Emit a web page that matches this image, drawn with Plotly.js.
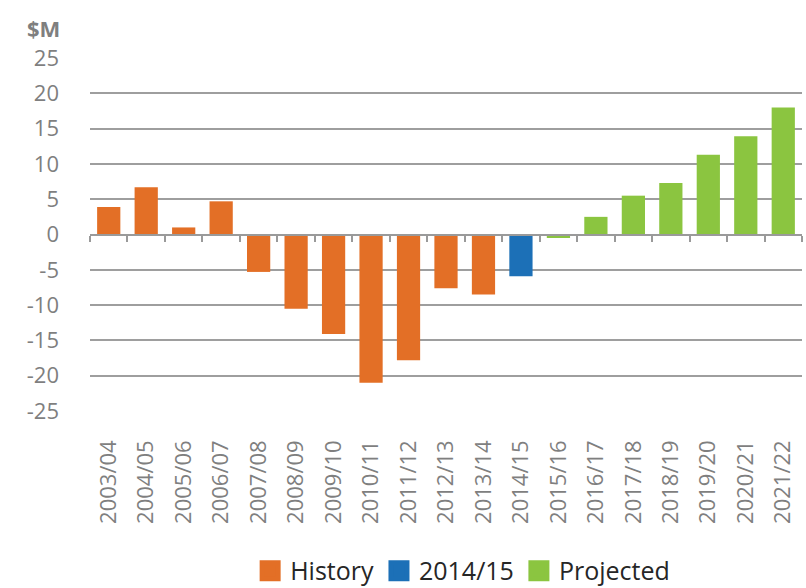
<!DOCTYPE html>
<html>
<head>
<meta charset="utf-8">
<script src="https://cdn.plot.ly/plotly-3.0.1.min.js"></script>
<style>html,body{margin:0;padding:0;background:#fff}#chart{width:806px;height:588px}</style>
</head>
<body>
<div id="chart"></div>
<script>
const categories = ["2003/04","2004/05","2005/06","2006/07","2007/08","2008/09","2009/10","2010/11","2011/12","2012/13","2013/14","2014/15","2015/16","2016/17","2017/18","2018/19","2019/20","2020/21","2021/22"];
const historyYears = ["2003/04","2004/05","2005/06","2006/07","2007/08","2008/09","2009/10","2010/11","2011/12","2012/13","2013/14"];
const historyValues = [3.9, 6.7, 1.0, 4.7, -5.3, -10.5, -14.1, -21.0, -17.8, -7.6, -8.5];
const currentYears = ["2014/15"];
const currentValues = [-5.9];
const projectedYears = ["2015/16","2016/17","2017/18","2018/19","2019/20","2020/21","2021/22"];
const projectedValues = [-0.5, 2.5, 5.5, 7.3, 11.3, 13.9, 18.0];
const seriesNames = ["History", "2014/15", "Projected"];
const seriesColors = ["#E36F26", "#1C70B7", "#8BC540"];
const yTicks = [-25,-20,-15,-10,-5,0,5,10,15,20,25];

const gray = "#7f7f7f";
const font = "Open Sans, sans-serif";

const traces = [
  {type:"bar", name:seriesNames[0], showlegend:false, x:historyYears, y:historyValues, marker:{color:seriesColors[0]}},
  {type:"bar", name:seriesNames[1], showlegend:false, x:currentYears, y:currentValues, marker:{color:seriesColors[1]}},
  {type:"bar", name:seriesNames[2], showlegend:false, x:projectedYears, y:projectedValues, marker:{color:seriesColors[2]}},
  {type:"scatter", mode:"markers", x:categories, y:categories.map(()=>0), marker:{opacity:0}, showlegend:false, hoverinfo:"skip", xaxis:"x2", yaxis:"y"}
];
// legend proxies (no data) so the legend keys can be larger squares
seriesNames.forEach((n, i) => {
  traces.push({type:"scatter", mode:"markers", name:n, x:[null], y:[null],
    marker:{symbol:"square", size:16, color:seriesColors[i], line:{color:seriesColors[i], width:5}}, showlegend:true});
});

const layout = {
  width:806, height:588,
  margin:{l:90, r:4, t:58, b:177},
  paper_bgcolor:"#fff", plot_bgcolor:"#fff",
  barmode:"relative", bargap:0.38,
  font:{family:font, color:gray, size:22},
  xaxis:{type:"category", categoryorder:"array", categoryarray:categories, range:[-0.5,18.5], automargin:false,
    showgrid:false, showline:false, zeroline:false, ticks:"", tickangle:-90,
    tickfont:{family:font, size:22, color:gray}, ticklabelstandoff:24, fixedrange:true},
  xaxis2:{type:"category", categoryorder:"array", categoryarray:categories, range:[-0.5,18.5],
    overlaying:"x", anchor:"free", position:0.5, side:"bottom",
    showgrid:false, zeroline:false, showline:true, linecolor:"#9a9a9a", linewidth:2,
    ticks:"outside", tickson:"boundaries", ticklen:6, tickwidth:2, tickcolor:"#9a9a9a",
    showticklabels:false, fixedrange:true},
  yaxis:{range:[-25,25], tickvals:yTicks, ticktext:yTicks.map(String), showgrid:true, gridcolor:"#9e9e9e", gridwidth:1.8,
    zeroline:false, showline:false, ticks:"", automargin:false, tickfont:{family:font, size:22, color:gray}, ticklabelstandoff:30, fixedrange:true},
  showlegend:true,
  legend:{orientation:"h", xref:"container", yref:"container", x:0.574, xanchor:"center", y:0.029, yanchor:"middle",
    font:{family:font, size:25, color:"#262626"}, traceorder:"normal", itemwidth:30, tracegroupgap:0},
  annotations:[{text:"<b>$M</b>", xref:"paper", yref:"paper", x:-0.0913, y:1.085, xanchor:"left", yanchor:"middle", showarrow:false, font:{family:font, size:22, color:gray}}]
};

Plotly.newPlot("chart", traces, layout, {displayModeBar:false, staticPlot:true});
</script>
</body>
</html>
